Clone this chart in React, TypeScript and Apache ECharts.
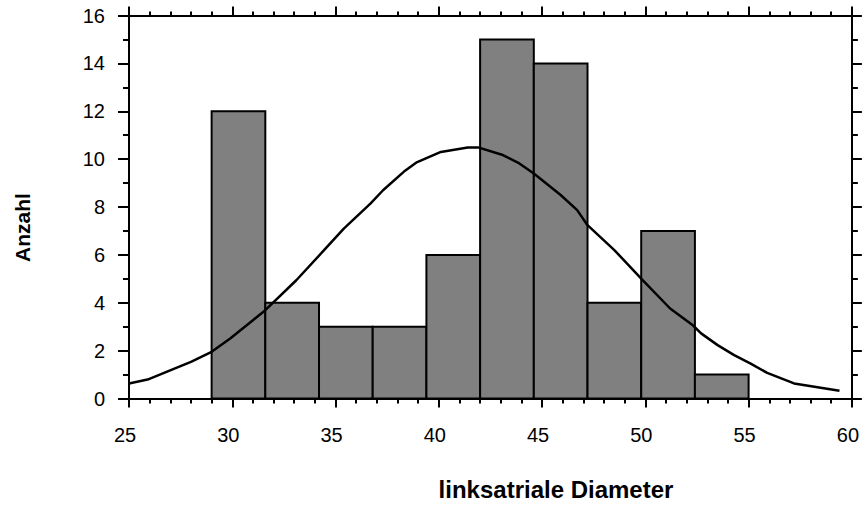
import React, { useEffect, useRef } from "react";
import * as echarts from "echarts";

const binEdges = [29, 31.6, 34.2, 36.8, 39.4, 42, 44.6, 47.2, 49.8, 52.4, 55];
const binCounts = [12, 4, 3, 3, 6, 15, 14, 4, 7, 1];

const curveX = [25.0, 25.9, 27.2, 28.0, 29.0, 29.9, 31.0, 31.6, 33.1, 34.3, 35.4, 36.7, 37.3, 38.3, 38.9, 40.1, 41.4, 41.9, 43.1, 43.9, 44.6, 45.9, 46.7, 47.2, 48.5, 49.8, 51.2, 52.3, 52.7, 53.5, 54.3, 55.1, 55.9, 57.2, 59.4];
const curveY = [0.63, 0.79, 1.25, 1.53, 1.95, 2.51, 3.27, 3.69, 4.94, 6.06, 7.10, 8.15, 8.70, 9.47, 9.85, 10.30, 10.49, 10.49, 10.17, 9.82, 9.40, 8.50, 7.87, 7.24, 6.20, 5.01, 3.76, 3.06, 2.72, 2.23, 1.81, 1.46, 1.07, 0.63, 0.32];

const xTitle = "linksatriale Diameter";
const yTitle = "Anzahl";

const FONT = "'Liberation Sans', Arial, Helvetica, sans-serif";

export default function App() {
  const ref = useRef<HTMLDivElement>(null);
  useEffect(() => {
    document.body.style.margin = "0";
    if (!ref.current) return;
    const chart = echarts.init(ref.current, null, { renderer: "svg" });
    const barData = binCounts.map((c, i) => [binEdges[i], binEdges[i + 1], c]);
    const lineData = curveX.map((x, i) => [x, curveY[i]]);
    const axisLine = { show: true, onZero: false, lineStyle: { color: "#000", width: 2 } };
    const label = { color: "#000", fontSize: 20, fontFamily: FONT };
    chart.setOption({
      animation: false,
      backgroundColor: "#fff",
      grid: { left: 129, right: 10, top: 15.5, bottom: 106.5, containLabel: false },
      xAxis: [
        {
          type: "value", min: 25, max: 60, interval: 5, position: "bottom",
          axisLine,
          axisTick: { show: true, inside: false, length: 9, lineStyle: { color: "#000", width: 2 } },
          minorTick: { show: true, splitNumber: 5, length: 5, lineStyle: { color: "#000", width: 2 } },
          splitLine: { show: false },
          axisLabel: { ...label, margin: 26, padding: [0, 8, 0, 0] },
        },
        {
          type: "value", min: 25, max: 60, interval: 5, position: "top",
          axisLine,
          axisTick: { show: true, inside: false, length: 9, lineStyle: { color: "#000", width: 2 } },
          minorTick: { show: true, splitNumber: 5, length: 4, lineStyle: { color: "#000", width: 2 } },
          splitLine: { show: false },
          axisLabel: { show: false },
        },
      ],
      yAxis: [
        {
          type: "value", min: 0, max: 16, interval: 2, position: "left",
          axisLine,
          axisTick: { show: true, inside: false, length: 11, lineStyle: { color: "#000", width: 2 } },
          minorTick: { show: true, splitNumber: 2, length: 6, lineStyle: { color: "#000", width: 2 } },
          splitLine: { show: false },
          axisLabel: { ...label, margin: 24, padding: [14, 0, 0, 0] },
        },
        {
          type: "value", min: 0, max: 16, interval: 2, position: "right",
          axisLine,
          axisTick: { show: true, inside: false, length: 10, lineStyle: { color: "#000", width: 2 } },
          minorTick: { show: true, splitNumber: 2, length: 6, lineStyle: { color: "#000", width: 2 } },
          splitLine: { show: false },
          axisLabel: { show: false },
        },
      ],
      series: [
        {
          type: "custom",
          xAxisIndex: 0,
          yAxisIndex: 0,
          data: barData,
          z: 2,
          renderItem: (params: any, api: any) => {
            const p0 = api.coord([api.value(0), 0]);
            const p1 = api.coord([api.value(1), api.value(2)]);
            return {
              type: "rect",
              shape: { x: p0[0], y: p1[1], width: p1[0] - p0[0], height: p0[1] - p1[1] },
              style: { fill: "#808080", stroke: "#000", lineWidth: 2 },
            };
          },
        },
        {
          type: "line",
          xAxisIndex: 0,
          yAxisIndex: 0,
          data: lineData,
          symbol: "none",
          smooth: false,
          z: 3,
          lineStyle: { color: "#000", width: 2.5 },
        },
      ],
      graphic: [
        {
          type: "text",
          x: 22.5,
          y: 227.5,
          rotation: Math.PI / 2,
          style: {
            text: yTitle,
            fill: "#000",
            font: `bold 21px ${FONT}`,
            textAlign: "center",
            textVerticalAlign: "middle",
          },
        },
        {
          type: "text",
          x: 556,
          y: 489,
          style: {
            text: xTitle,
            fill: "#000",
            font: `bold 24px ${FONT}`,
            textAlign: "center",
            textVerticalAlign: "middle",
          },
        },
      ],
    });
    return () => chart.dispose();
  }, []);
  return <div ref={ref} style={{ width: 862, height: 505 }} />;
}
